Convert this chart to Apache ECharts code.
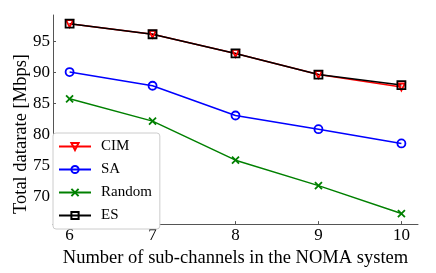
<!DOCTYPE html>
<html><head><meta charset="utf-8">
<script src="https://cdn.jsdelivr.net/npm/echarts@6/dist/echarts.min.js"></script>
<style>html,body{margin:0;padding:0;background:#fff}#c{width:436px;height:273px}</style>
</head><body><div id="c"></div>
<script>
const categories = [6, 7, 8, 9, 10];
const cimValues = [97.8, 96.1, 93.0, 89.6, 87.6];
const saValues = [90.0, 87.8, 83.0, 80.8, 78.5];
const randomValues = [85.7, 82.1, 75.8, 71.7, 67.2];
const esValues = [97.8, 96.1, 93.0, 89.6, 87.9];
const yTicks = [70, 75, 80, 85, 90, 95];
const xTicks = [6, 7, 8, 9, 10];
const seriesNames = ['CIM', 'SA', 'Random', 'ES'];
const xTitle = 'Number of sub-channels in the NOMA system';
const yTitle = 'Total datarate [Mbps]';

const font = 'Liberation Serif';
const pair = v => categories.map((c, i) => [c, v[i]]);
function mk(name, data, color, symbol, size, rot) {
  return {
    name, type: 'line', data: pair(data), symbol, symbolSize: size, symbolRotate: rot || 0,
    showSymbol: true,
    lineStyle: { color, width: 1.5 },
    itemStyle: { color: 'rgba(0,0,0,0)', borderColor: color, borderWidth: 1.8 },
    emphasis: { disabled: true }, animation: false
  };
}
const chart = echarts.init(document.getElementById('c'));
chart.setOption({
  animation: false,
  grid: { left: 53, right: 18, top: 15, bottom: 46 },
  graphic: [{
    type: 'text', x: 21, y: 134, rotation: Math.PI / 2,
    style: { text: yTitle, fontFamily: font, fontSize: 18.5, fill: '#000', align: 'center', verticalAlign: 'middle' }
  }],
  xAxis: {
    type: 'value', min: 5.8, max: 10.2,
    name: xTitle, nameLocation: 'middle', nameGap: 21,
    nameTextStyle: { fontFamily: font, fontSize: 18.5, color: '#000' },
    axisLine: { show: true, lineStyle: { color: '#555', width: 1 } },
    axisTick: { show: true, inside: true, length: 3, customValues: xTicks, lineStyle: { color: '#555' } },
    axisLabel: { customValues: xTicks, fontFamily: font, fontSize: 17, color: '#000', margin: 3 },
    splitLine: { show: false }
  },
  yAxis: {
    type: 'value', min: 65.5, max: 99.2,
    axisLine: { show: true, lineStyle: { color: '#555', width: 1 } },
    axisTick: { show: true, inside: true, length: 3, customValues: yTicks, lineStyle: { color: '#555' } },
    axisLabel: { customValues: yTicks, fontFamily: font, fontSize: 17, color: '#000', margin: 3 },
    splitLine: { show: false }
  },
  legend: {
    orient: 'vertical', left: 53, top: 133,
    data: seriesNames,
    backgroundColor: '#fff', borderColor: '#ccc', borderWidth: 1, borderRadius: 3,
    padding: [6, 8, 6, 5], itemWidth: 32, itemHeight: 9, itemGap: 8,
    textStyle: { fontFamily: font, fontSize: 15, color: '#000', padding: [0, 0, 0, 5] }
  },
  series: [
    mk(seriesNames[0], cimValues, '#ff0000', 'triangle', 7, 180),
    mk(seriesNames[1], saValues, '#0000ff', 'circle', 8),
    mk(seriesNames[2], randomValues, '#008000', 'path://M0,0L10,10M10,0L0,10', 7),
    mk(seriesNames[3], esValues, '#000000', 'rect', 8)
  ]
});
</script></body></html>
